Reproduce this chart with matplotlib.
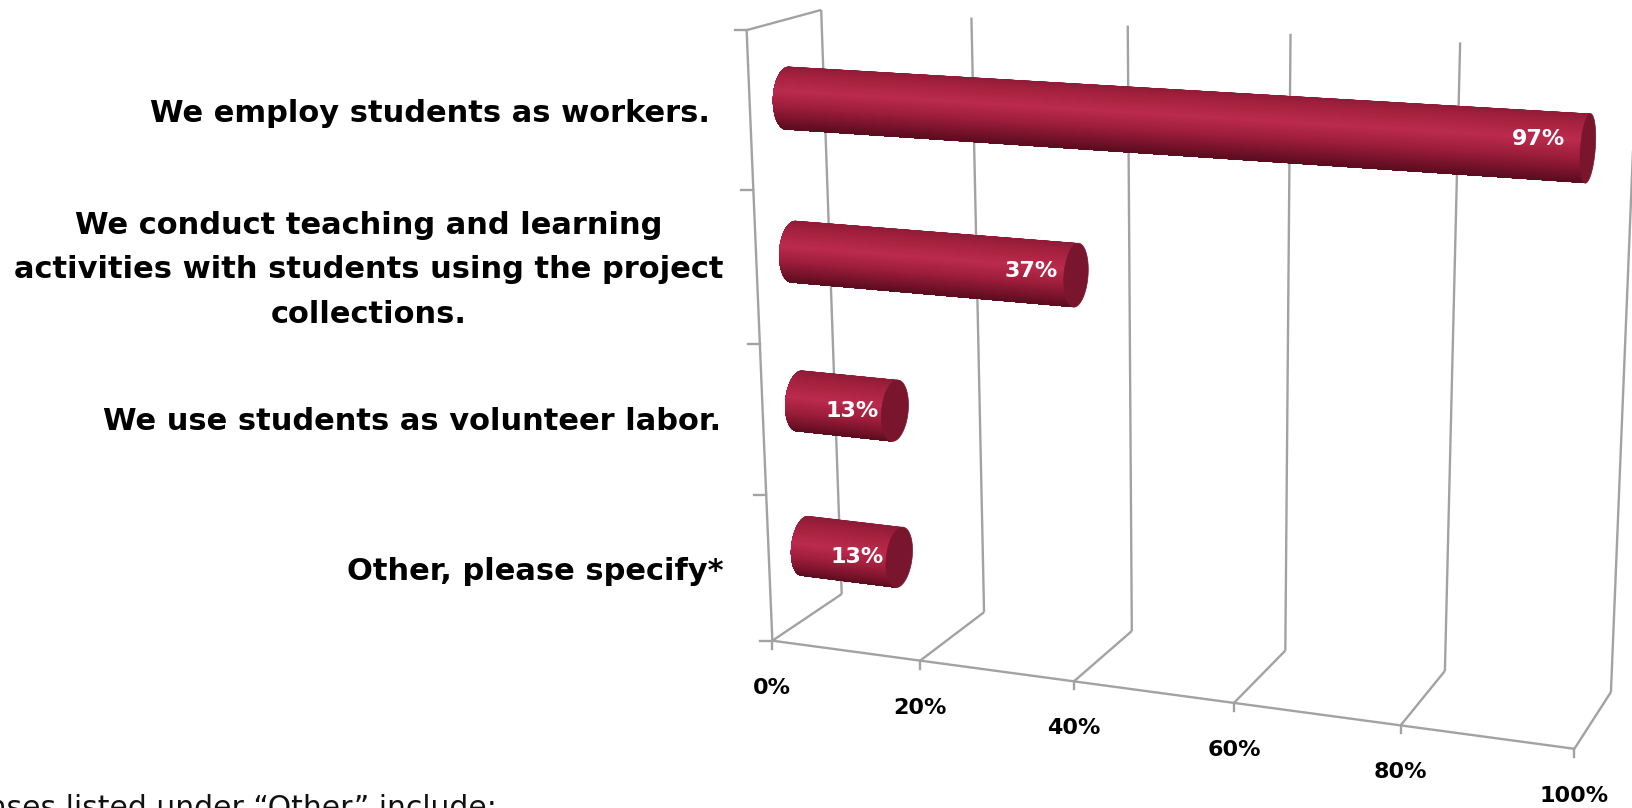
import numpy as np
import matplotlib
matplotlib.use('Agg')
import matplotlib.pyplot as plt
from matplotlib.colors import LinearSegmentedColormap
from matplotlib.patches import Polygon

categories = ['We employ students as workers.',
              'We conduct teaching and learning\nactivities with students using the project\ncollections.',
              'We use students as volunteer labor.',
              'Other, please specify*']
values = [97, 37, 13, 13]
xticks = [0, 20, 40, 60, 80, 100]
xtick_labels = ['0%', '20%', '40%', '60%', '80%', '100%']

GRID = '#a2a2a2'
CAP = '#7a152e'
tube_cmap = LinearSegmentedColormap.from_list('tube', [(0, '#8f1b36'), (0.2, '#a82240'), (0.45, '#bb2b4d'),
                                                       (0.7, '#9c1d3a'), (0.9, '#741229'), (1, '#5c0d20')])

# camera of the 3d box: (value, height, depth) -> image pixel, fitted on the box corners
world = np.array([[0, 0, 0], [0, 0, 1], [100, 0, 0], [100, 0, 1], [0, 4, 0], [0, 4, 1], [100, 4, 1], [80, 4, 1], [80, 0, 0]], float)
image = np.array([[772, 641], [842, 594], [1574, 749], [1611, 692], [747, 30], [821, 10], [1638, 52], [1459, 42], [1401, 725]], float)
rows = []
for (a, b, c), (u, v) in zip(world, image):
    rows.append([a, b, c, 1, 0, 0, 0, 0, -u * a, -u * b, -u * c, -u])
    rows.append([0, 0, 0, 0, a, b, c, 1, -v * a, -v * b, -v * c, -v])
camera = np.linalg.svd(np.array(rows))[2][-1].reshape(3, 4)


def project(v, h, d):
    p = camera @ np.array([v, h, d, 1.0])
    return p[0] / p[2], p[1] / p[2]


def line3d(ax, a, b):
    pa, pb = project(*a), project(*b)
    ax.plot([pa[0], pb[0]], [pa[1], pb[1]], color=GRID, lw=1.7, solid_capstyle='butt', zorder=1)


def ring(v, h, d, r, angle):
    return project(v, h + r * np.cos(angle), d - r * np.sin(angle))


fig = plt.figure(figsize=(16.33, 8.08), dpi=100)
ax = fig.add_axes([0, 0, 1, 1])
ax.set_xlim(0, 1633)
ax.set_ylim(808, 0)
ax.axis('off')

# box
for v in xticks:
    line3d(ax, (v, 0, 1), (v, 4, 1))
    line3d(ax, (v, 0, 0), (v, 0, 1))
    x, y = project(v, 0, 0)
    ax.plot([x, x], [y, y + 8], color=GRID, lw=1.7, zorder=1)
line3d(ax, (0, 0, 0), (100, 0, 0))
line3d(ax, (0, 0, 0), (0, 4, 0))
line3d(ax, (0, 4, 0), (0, 4, 1))
for h in range(5):
    x, y = project(0, h, 0)
    ax.plot([x - 12, x], [y, y], color=GRID, lw=1.7, zorder=1)

for v, lab in zip(xticks, xtick_labels):
    x, y = project(v, 0, 0)
    ax.text(x, y + 47, lab, ha='center', va='center', fontsize=16, fontweight='bold', color='black')

# tubes, each layer runs to the bottom edge so the shading has no seams
radius = 0.2
angles = np.radians(np.linspace(-18, 162, 91))
label_pos = [(-49, -9), (-45, -4), (-43, 0), (-42, 0)]
for i, val in enumerate(values):
    h = 3.5 - i
    for k in range(len(angles) - 1):
        rest = angles[k:]
        pts = [ring(0, h, 0.5, radius, a) for a in rest] + [ring(val, h, 0.5, radius, a) for a in rest[::-1]]
        col = tube_cmap((1 - np.cos(angles[k] - angles[0])) / 2)
        ax.add_patch(Polygon(pts, closed=True, facecolor=col, edgecolor='none', zorder=2))
    circle = [ring(val, h, 0.5, radius, a) for a in np.linspace(0, 2 * np.pi, 80)]
    ax.add_patch(Polygon(circle, closed=True, facecolor=CAP, edgecolor=CAP, lw=0.5, zorder=3))

    x, y = project(val, h, 0.5)
    ax.text(x + label_pos[i][0], y + label_pos[i][1], f'{val}%', ha='center', va='center',
            fontsize=16, fontweight='bold', color='white', zorder=4)

# category labels, one centre per label
label_x = [430, 369, 412, 535]
label_y = [113, 270, 422, 571]
for cat, x, y in zip(categories, label_x, label_y):
    ax.text(x, y, cat, ha='center', va='center', fontsize=22, fontweight='bold', color='black', linespacing=1.67)

ax.text(497, 817, 'Responses listed under \u201cOther\u201d include:', ha='right', va='baseline',
        fontsize=21.5, color='#111111')

fig.savefig('out.png', dpi=100)
